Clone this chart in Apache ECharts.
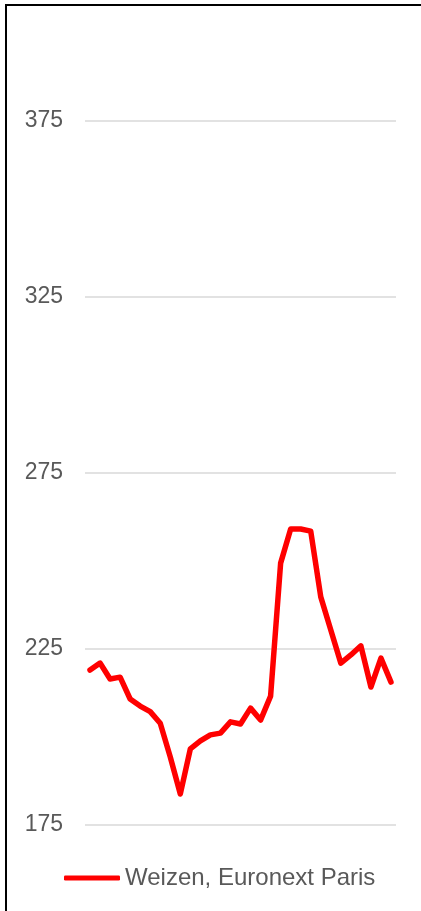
<!DOCTYPE html>
<html lang="de">
<head>
    <meta charset="UTF-8">
    <title>Weizen, Euronext Paris</title>
    <script src="https://cdn.jsdelivr.net/npm/echarts@6/dist/echarts.min.js"></script>
    <style>
        html, body { margin: 0; padding: 0; overflow: hidden; background: #fff; }
        #frame { position: absolute; left: 5px; top: 4px; width: 600px; height: 1200px;
                 border-top: 2px solid #000; border-left: 2px solid #000; pointer-events: none; }
        #main { position: absolute; left: 0; top: 0; width: 421px; height: 911px; }
    </style>
</head>
<body>
<div id="main"></div>
<div id="frame"></div>
<script type="text/javascript">
    // Wochenwerte (Index), Preis in EUR/t
    var weeks = ['1','2','3','4','5','6','7','8','9','10','11','12','13','14','15','16',
                 '17','18','19','20','21','22','23','24','25','26','27','28','29','30','31'];
    var weizen = [219.0, 221.0, 216.5, 217.0, 210.8, 208.8, 207.2, 203.9, 194.3, 183.8,
                  196.6, 198.9, 200.6, 201.1, 204.3, 203.7, 208.2, 204.8, 211.6, 249.4,
                  259.1, 259.1, 258.5, 239.8, 230.4, 221.0, 223.3, 225.9, 214.2, 222.4, 215.6];
    var yTicks = { min: 175, max: 375, step: 50 };

    var myChart = echarts.init(document.getElementById('main'));
    var font = 'Liberation Sans, Arial, sans-serif';

    var option = {
        animation: false,
        grid: { left: 85, right: 25, top: 121, bottom: 86 },
        legend: {
            bottom: 16,
            left: 59,
            icon: 'roundRect',
            itemWidth: 56,
            itemHeight: 5,
            itemGap: 10,
            textStyle: { fontFamily: font, fontSize: 24, color: '#595959' },
            data: ['Weizen, Euronext Paris']
        },
        xAxis: {
            type: 'category',
            data: weeks,
            boundaryGap: true,
            axisLine: { show: false },
            axisTick: { show: false },
            axisLabel: { show: false }
        },
        yAxis: {
            type: 'value',
            min: yTicks.min,
            max: yTicks.max,
            interval: yTicks.step,
            axisLine: { show: false },
            axisTick: { show: false },
            axisLabel: { fontFamily: font, fontSize: 23, color: '#595959', margin: 22 },
            splitLine: { lineStyle: { color: '#d9d9d9', width: 1.5 } }
        },
        series: [{
            name: 'Weizen, Euronext Paris',
            type: 'line',
            data: weizen,
            symbol: 'none',
            itemStyle: { color: '#ff0000' },
            lineStyle: { color: '#ff0000', width: 5.5, join: 'round', cap: 'round' }
        }]
    };
    myChart.setOption(option);
</script>
</body>
</html>
